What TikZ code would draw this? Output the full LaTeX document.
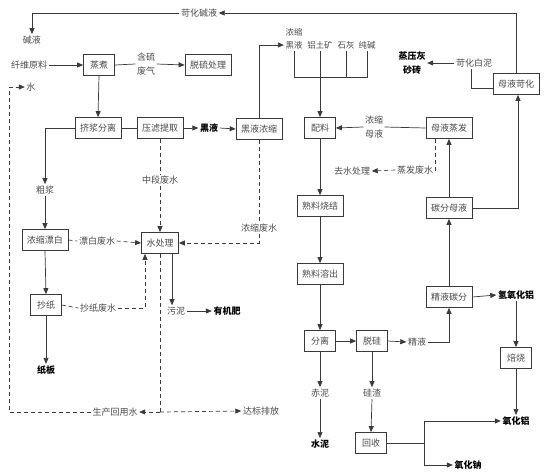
\documentclass[tikz,border=0pt]{standalone}
\usepackage{fontspec}
\setmainfont{Noto Sans CJK SC}
\usetikzlibrary{arrows.meta,calc}
\definecolor{ln}{HTML}{3A3A3A}
\definecolor{tx}{HTML}{4A4A4A}
\tikzset{
  base/.style={font=\fontsize{9}{14}\selectfont, text=tx, inner sep=1.5pt, align=center},
  box/.style={base, draw=ln, line width=0.7pt, fill=white, minimum width=31pt, minimum height=21pt, inner xsep=5pt, inner ysep=0pt},
  lbl/.style={base},
  small/.style={base, font=\fontsize{8.4}{13}\selectfont},
  bld/.style={base, text=black, font=\fontsize{9}{14}\selectfont\bfseries},
  conn/.style={draw=ln, line width=0.7pt},
  arr/.style={conn, -{Triangle[length=6pt,width=5pt]}},
  dsh/.style={conn, dash pattern=on 4pt off 3pt},
  darr/.style={arr, dash pattern=on 4pt off 3pt},
}
\begin{document}
\begin{tikzpicture}[x=1pt,y=-1pt]
\useasboundingbox (0,0) rectangle (544,475);
% ---------- left part ----------
\node[lbl] (kj) at (199,13) {苛化碱液};
\node[lbl] (jy) at (32,40) {碱液};
\node[lbl] (xw) at (29,65) {纤维原料};
\node[box] (zz) at (99,65) {蒸煮};
\node[lbl] (hl) at (146,64) {含硫\\废气};
\node[box] (tl) at (208,65) {脱硫处理};
\node[lbl] (shui) at (31,87) {水};
\node[box] (jj) at (98,128) {挤浆分离};
\node[box] (yl) at (160,128) {压滤提取};
\node[bld] (hy) at (209,128) {黑液};
\node[box] (hn) at (259,129) {黑液浓缩};
\node[lbl] (zdfs) at (160,180) {中段废水};
\node[lbl] (cj) at (45,190) {粗浆};
\node[lbl] (nsfs) at (259,228) {浓缩废水};
\node[box] (nb) at (45,240) {浓缩漂白};
\node[lbl] (pbfs) at (97,241) {漂白废水};
\node[box] (scl) at (160,243) {水处理};
\node[box] (cz) at (46,305) {抄纸};
\node[lbl] (czfs) at (98,308) {抄纸废水};
\node[lbl] (wn) at (176,311) {污泥};
\node[bld] (yjf) at (227,311) {有机肥};
\node[bld] (zb) at (46,370) {纸板};
\node[lbl] (schy) at (115,412) {生产回用水};
\node[lbl] (dbpf) at (261,411) {达标排放};
\coordinate (j1) at (160,412);
\coordinate (lc) at (9,87);
% ---------- right part ----------
\node[small] (nshy) at (294,39) {浓缩\\黑液};
\node[small] (ltk) at (320,45) {铝土矿};
\node[small] (sh) at (346,45) {石灰};
\node[small] (cjn) at (367,45) {纯碱};
\coordinate (bar) at (0,77);
\node[bld] (zyh) at (412,63) {蒸压灰\\砂砖};
\node[lbl] (khbn) at (474,63) {苛化白泥};
\node[box] (myk) at (516,84) {母液苛化};
\node[box] (pl) at (320,128) {配料};
\node[lbl] (nsmy) at (374,127) {浓缩\\母液};
\node[box] (myz) at (449,128) {母液蒸发};
\node[lbl] (qscl) at (352,171) {去水处理};
\node[lbl] (zffs) at (415,170) {蒸发废水};
\node[box] (tfmy) at (449,208) {碳分母液};
\node[box] (slsj) at (320,206) {熟料烧结};
\node[box] (slrc) at (320,274) {熟料溶出};
\node[box] (jytf) at (449,297) {精液碳分};
\node[bld] (qyhl) at (516,295) {氢氧化铝};
\node[box] (fl) at (320,341) {分离};
\node[box] (tg) at (372,341) {脱硅};
\node[lbl] (jingye) at (417,342) {精液};
\node[box] (bs) at (516,358) {焙烧};
\node[lbl] (cn) at (320,393) {赤泥};
\node[lbl] (gz) at (372,393) {硅渣};
\node[bld] (sn) at (320,444) {水泥};
\node[box] (hs) at (371,443) {回收};
\node[bld] (yhl) at (516,421) {氧化铝};
\node[bld] (yhn) at (468,465) {氧化钠};
\coordinate (hj) at (424,443);
% ---------- connectors left ----------
\draw[arr] (myk.north) |- (kj.east);
\draw[arr] (kj.west) -| (jy.north);
\draw[arr] (xw.east) -- (zz.west);
\draw[conn] (zz.east) -- (hl.west);
\draw[arr] (hl.east) -- (tl.west);
\draw[arr] (zz.south) -- (jj.north);
\draw[arr] (jj.west) -| (cj.north);
\draw[conn] (jj.east) -- (yl.west);
\draw[arr] (yl.east) -- (hy.west);
\draw[arr] (hy.east) -- (hn.west);
\draw[arr] (hn.north) |- ([yshift=-6pt]nshy.west);
\draw[dsh] (hn.south) -- (nsfs.north);
\draw[darr] (nsfs.south) |- (scl.east);
\draw[dsh] (yl.south) -- (zdfs.north);
\draw[darr] (zdfs.south) -- (scl.north);
\draw[arr] (cj.south) -- (nb.north);
\draw[dsh] (nb.east) -- (pbfs.west);
\draw[darr] (pbfs.east) -- (scl.west);
\draw[arr] (nb.south) -- (cz.north);
\draw[dsh] (cz.east) -- (czfs.west);
\draw[darr] (czfs.east) -| ([xshift=-15pt]scl.south);
\draw[arr] (cz.south) -- (zb.north);
\draw[arr] ([xshift=12pt]scl.south) -- ([xshift=12pt]scl.south |- wn.north);
\draw[arr] (wn.east) -- (yjf.west);
\draw[dsh] (scl.south) -- (j1);
\draw[darr] (j1) -- (schy.east);
\draw[darr] (j1) -- (dbpf.west);
\draw[dsh] (schy.west) -| (lc);
\draw[darr] (lc) -- (shui.west);
% ---------- connectors right ----------
\draw[conn] (nshy.south) -- (nshy.south |- bar) -- (cjn.south |- bar) -- (cjn.south);
\draw[conn] (sh.south) -- (sh.south |- bar);
\draw[arr] (ltk.south) -- (pl.north);
\draw[conn] (myz.west) -- (nsmy.east);
\draw[arr] (nsmy.west) -- (pl.east);
\draw[dsh] ([xshift=-14pt]myz.south) |- (zffs.east);
\draw[darr] (zffs.west) -- (qscl.east);
\draw[arr] (tfmy.north) -- (myz.south);
\draw[arr] (tfmy.east) -| ([xshift=2pt]myk.south);
\draw[conn] ([yshift=-4pt]myk.west) -| ([xshift=-3pt]khbn.south);
\draw[arr] (khbn.west) -- (zyh.east);
\draw[arr] (pl.south) -- (slsj.north);
\draw[arr] (slsj.south) -- (slrc.north);
\draw[arr] (slrc.south) -- (fl.north);
\draw[arr] (fl.east) -- (tg.west);
\draw[arr] (tg.east) -- (jingye.west);
\draw[arr] (jingye.east) -| (jytf.south);
\draw[arr] (jytf.north) -- (tfmy.south);
\draw[arr] (jytf.east) -- (qyhl.west);
\draw[arr] (qyhl.south) -- (bs.north);
\draw[arr] (bs.south) -- (yhl.north);
\draw[arr] (fl.south) -- (cn.north);
\draw[arr] (cn.south) -- (sn.north);
\draw[arr] (tg.south) -- (gz.north);
\draw[arr] (gz.south) -- (hs.north);
\draw[conn] (hs.east) -- (hj);
\draw[arr] (hj) |- (yhl.west);
\draw[arr] (hj) |- (yhn.west);
\end{tikzpicture}
\end{document}
